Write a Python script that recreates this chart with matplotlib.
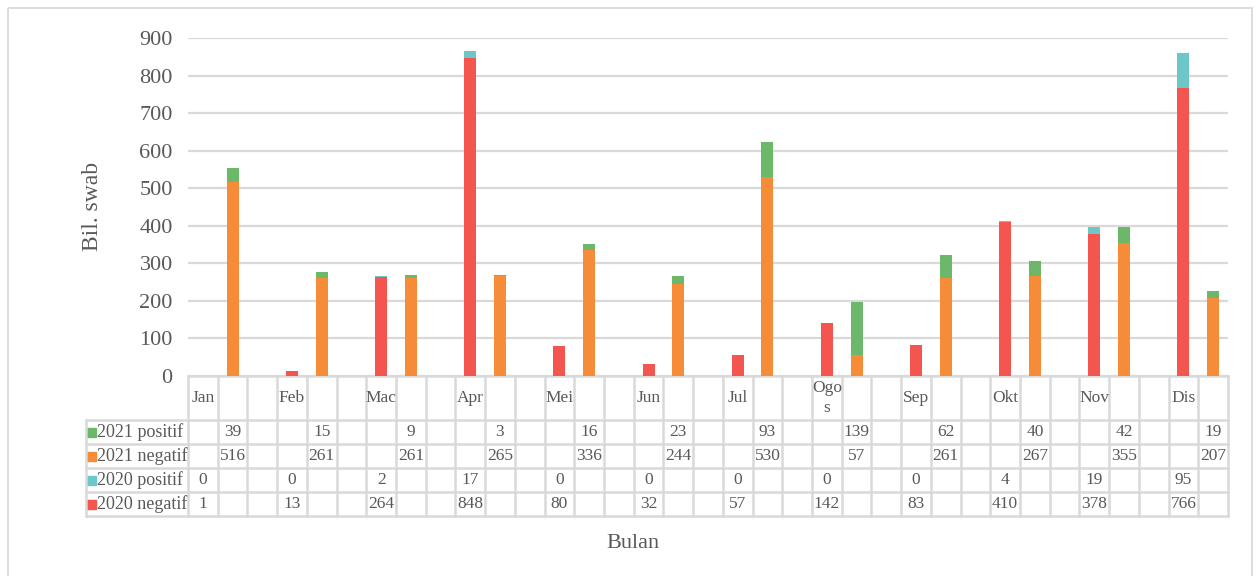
import numpy as np
import matplotlib
matplotlib.use("Agg")
import matplotlib.pyplot as plt
from matplotlib.patches import Rectangle

plt.rcParams['font.family'] = ['Liberation Serif', 'DejaVu Serif']

# data
months = ['Jan', 'Feb', 'Mac', 'Apr', 'Mei', 'Jun', 'Jul', 'Ogo\ns', 'Sep', 'Okt', 'Nov', 'Dis']
neg2020 = [1, 13, 264, 848, 80, 32, 57, 142, 83, 410, 378, 766]
pos2020 = [0, 0, 2, 17, 0, 0, 0, 0, 0, 4, 19, 95]
neg2021 = [516, 261, 261, 265, 336, 244, 530, 57, 261, 267, 355, 207]
pos2021 = [39, 15, 9, 3, 16, 23, 93, 139, 62, 40, 42, 19]
yticks = [0, 100, 200, 300, 400, 500, 600, 700, 800, 900]

c_green = '#6cb86a'
c_orange = '#f68b38'
c_teal = '#6bc7c8'
c_red = '#f4554f'
grid_c = '#d9d9d9'
txt_c = '#595959'

W, H = 1257, 576
fig = plt.figure(figsize=(W / 100, H / 100), dpi=100)

# plot area in pixels
px_l, px_r, px_top, px_bot = 188, 1228, 38, 376
n_cols = 3 * len(months) - 1
col_w = (px_r - px_l) / n_cols

ax = fig.add_axes([px_l / W, 1 - px_bot / H, (px_r - px_l) / W, (px_bot - px_top) / H])
x20 = np.arange(len(months)) * 3
x21 = x20 + 1
bw = 0.4
ax.bar(x20, neg2020, bw, color=c_red, zorder=3)
ax.bar(x20, pos2020, bw, bottom=neg2020, color=c_teal, zorder=3)
ax.bar(x21, neg2021, bw, color=c_orange, zorder=3)
ax.bar(x21, pos2021, bw, bottom=neg2021, color=c_green, zorder=3)
ax.set_xlim(-0.5, n_cols - 0.5)
ax.set_ylim(0, 900)
ax.set_yticks(yticks)
ax.tick_params(axis='y', length=0, pad=11, labelsize=16, labelcolor=txt_c)
ax.set_xticks([])
for s in ax.spines.values():
    s.set_visible(False)
ax.grid(axis='y', color=grid_c, lw=1.6, zorder=0)

# overlay axes in pixel coords for table and frame
ov = fig.add_axes([0, 0, 1, 1], zorder=-1)
ov.set_xlim(0, W)
ov.set_ylim(H, 0)
ov.axis('off')
ov.add_patch(Rectangle((8, 8), 1244, 600, fill=False, ec=grid_c, lw=1.3))

ov.text(93, 206, 'Bil. swab', rotation=90, ha='center', va='center',
        fontsize=17, color=txt_c)
ov.text(633, 543, 'Bulan', ha='center', va='center', fontsize=16, color=txt_c)

row_top = [376, 420, 444, 468, 492, 516]
leg_l = 86
lw_t = 1.8
# horizontal lines
ov.plot([px_l, px_r], [row_top[0], row_top[0]], color=grid_c, lw=lw_t)
for y in row_top[1:]:
    ov.plot([leg_l, px_r], [y, y], color=grid_c, lw=lw_t)
# vertical lines
for i in range(n_cols + 1):
    xx = px_l + i * col_w
    ov.plot([xx, xx], [row_top[0], row_top[-1]], color=grid_c, lw=lw_t)
ov.plot([leg_l, leg_l], [row_top[1], row_top[-1]], color=grid_c, lw=lw_t)

# header row
for m, name in enumerate(months):
    cx = px_l + (3 * m + 0.5) * col_w
    ov.text(cx, (row_top[0] + row_top[1]) / 2, name, ha='center', va='center',
            fontsize=12.5, color=txt_c, linespacing=1.3)

rows = [('2021 positif', c_green, pos2021, 1),
        ('2021 negatif', c_orange, neg2021, 1),
        ('2020 positif', c_teal, pos2020, 0),
        ('2020 negatif', c_red, neg2020, 0)]
for r, (lab, col, vals, off) in enumerate(rows):
    cy = (row_top[r + 1] + row_top[r + 2]) / 2
    ov.add_patch(Rectangle((87, cy - 4.5), 9, 9, color=col))
    ov.text(97, cy, lab, ha='left', va='center', fontsize=13, color=txt_c)
    for m, v in enumerate(vals):
        cx = px_l + (3 * m + off + 0.5) * col_w
        ov.text(cx, cy, str(v), ha='center', va='center', fontsize=12.5, color=txt_c)

fig.savefig('out.png', dpi=100)
